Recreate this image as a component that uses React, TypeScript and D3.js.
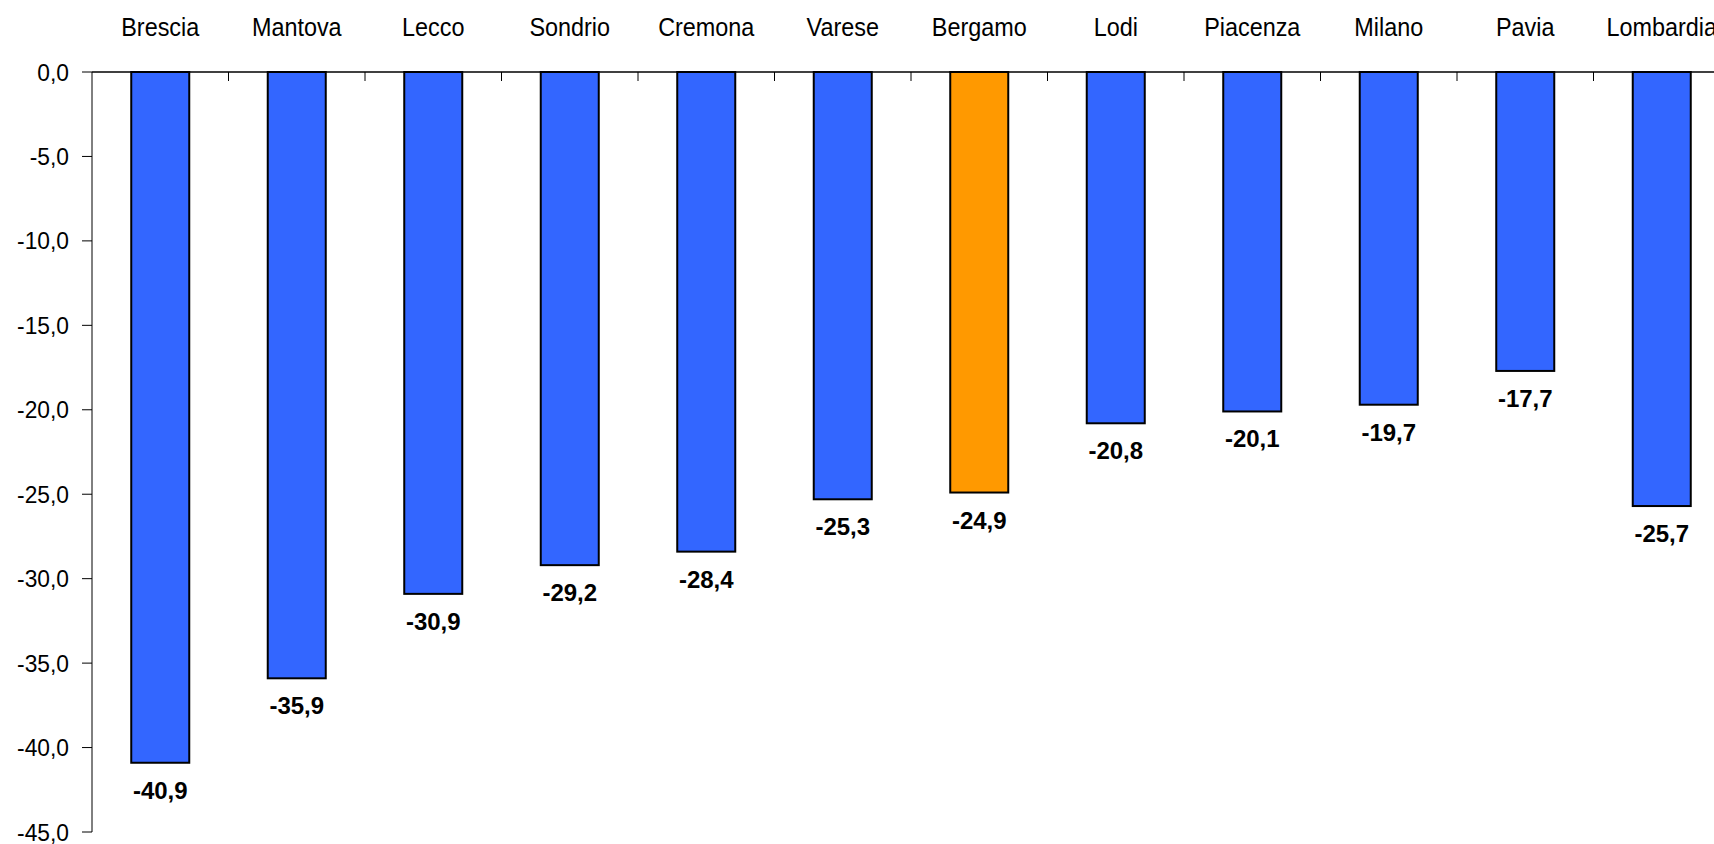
import React from "react";
import * as d3 from "d3";

const categories = ["Brescia", "Mantova", "Lecco", "Sondrio", "Cremona", "Varese", "Bergamo", "Lodi", "Piacenza", "Milano", "Pavia", "Lombardia"];
const values = [-40.9, -35.9, -30.9, -29.2, -28.4, -25.3, -24.9, -20.8, -20.1, -19.7, -17.7, -25.7];
const highlight = ["Bergamo"];
const yTicks = [0, -5, -10, -15, -20, -25, -30, -35, -40, -45];

const W = 1714;
const H = 844;
const left = 92;
const step = 136.5;
const top = 72;
const bottom = 832;

const sans = "'Liberation Sans', Arial, sans-serif";

const fmt = (v: number) => v.toFixed(1).replace(".", ",");

export default function App() {
  const x = d3
    .scaleBand<string>()
    .domain(categories)
    .range([left, left + step * categories.length])
    .paddingInner(0.575)
    .paddingOuter(0.2875);
  const y = d3.scaleLinear().domain([-45, 0]).range([bottom, top]);
  const bw = x.bandwidth();

  return (
    <svg width={W} height={H} style={{ position: "absolute", left: 0, top: 0, background: "#fff" }}>
      {categories.map((c) => (
        <g key={"c" + c} transform={`translate(${x(c)! + bw / 2},36) scale(0.9,1)`}>
          <text x={0} y={0} textAnchor="middle" fontFamily={sans} fontSize={26} fill="#000">
            {c}
          </text>
        </g>
      ))}
      {yTicks.map((t) => (
        <g key={"t" + t}>
          <line x1={left - 10} x2={left} y1={y(t)} y2={y(t)} stroke="#000" strokeWidth={1} />
          <g transform={`translate(69,${y(t) + 8.5}) scale(0.95,1)`}>
            <text x={0} y={0} textAnchor="end" fontFamily={sans} fontSize={24} fill="#000">
              {fmt(t)}
            </text>
          </g>
        </g>
      ))}
      <line x1={left} x2={left} y1={top} y2={bottom} stroke="#000" strokeWidth={1} />
      {categories.map((c, i) => (
        <line key={"xt" + i} x1={left + step * (i + 1)} x2={left + step * (i + 1)} y1={top} y2={top + 9} stroke="#000" strokeWidth={1} />
      ))}
      {categories.map((c, i) => (
        <rect
          key={"b" + c}
          x={x(c)!}
          y={y(0)}
          width={bw}
          height={y(values[i]) - y(0)}
          fill={highlight.includes(c) ? "#FF9900" : "#3366FF"}
          stroke="#000"
          strokeWidth={2}
        />
      ))}
      <line x1={left} x2={W} y1={top} y2={top} stroke="#000" strokeWidth={1.5} />
      {categories.map((c, i) => (
        <text key={"v" + c} x={x(c)! + bw / 2} y={y(values[i]) + 36} textAnchor="middle" fontFamily={sans} fontWeight="bold" fontSize={24} fill="#000">
          {fmt(values[i])}
        </text>
      ))}
    </svg>
  );
}
